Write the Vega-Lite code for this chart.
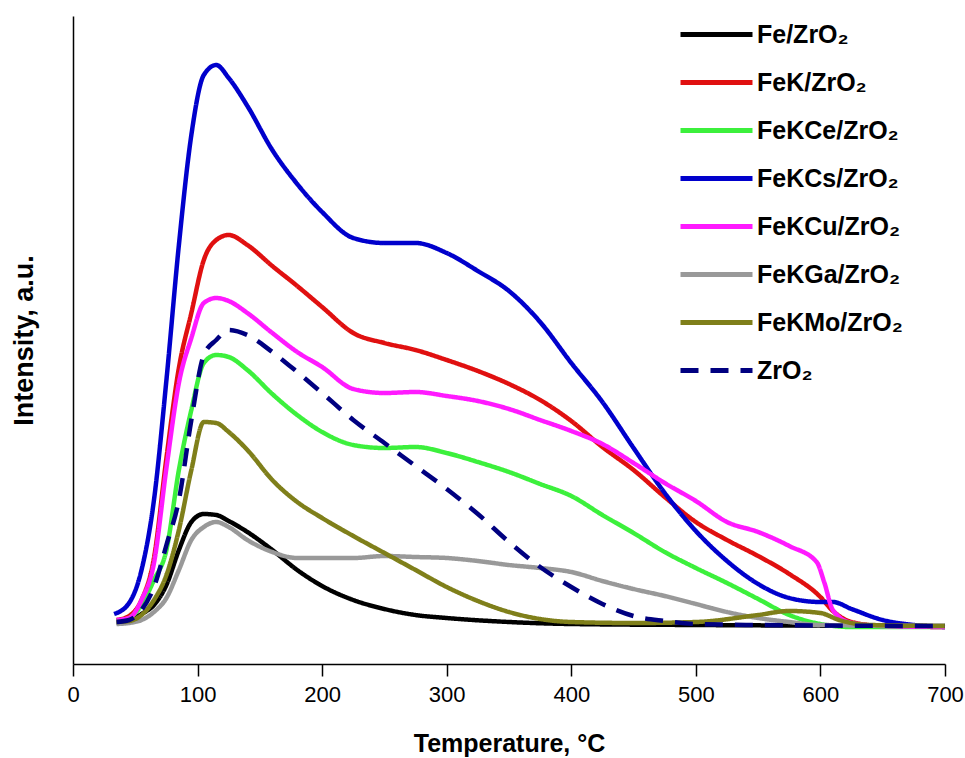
{
  "$schema": "https://vega.github.io/schema/vega-lite/v6.json",
  "width": 872,
  "height": 648,
  "autosize": {"type": "none"},
  "padding": {"left": 73, "top": 16, "right": 20, "bottom": 94},
  "background": "white",
  "config": {"view": {"stroke": null}, "font": "Liberation Sans"},
  "datasets": {
    "tpd": [
      {"s":"Fe/ZrO\u2082","t":35,"i":39},{"s":"Fe/ZrO\u2082","t":45,"i":41},{"s":"Fe/ZrO\u2082","t":55,"i":48},{"s":"Fe/ZrO\u2082","t":65,"i":57},{"s":"Fe/ZrO\u2082","t":75,"i":77},{"s":"Fe/ZrO\u2082","t":85,"i":112},{"s":"Fe/ZrO\u2082","t":95,"i":140},{"s":"Fe/ZrO\u2082","t":105,"i":148},{"s":"Fe/ZrO\u2082","t":115,"i":147},{"s":"Fe/ZrO\u2082","t":125,"i":141},{"s":"Fe/ZrO\u2082","t":140,"i":130},{"s":"Fe/ZrO\u2082","t":160,"i":112},{"s":"Fe/ZrO\u2082","t":180,"i":92},{"s":"Fe/ZrO\u2082","t":200,"i":76},{"s":"Fe/ZrO\u2082","t":225,"i":62},{"s":"Fe/ZrO\u2082","t":250,"i":53},{"s":"Fe/ZrO\u2082","t":275,"i":47},{"s":"Fe/ZrO\u2082","t":300,"i":44},{"s":"Fe/ZrO\u2082","t":350,"i":40},{"s":"Fe/ZrO\u2082","t":400,"i":38},{"s":"Fe/ZrO\u2082","t":500,"i":37},{"s":"Fe/ZrO\u2082","t":700,"i":36},

      {"s":"FeK/ZrO\u2082","t":35,"i":42},{"s":"FeK/ZrO\u2082","t":45,"i":46},{"s":"FeK/ZrO\u2082","t":55,"i":62},{"s":"FeK/ZrO\u2082","t":65,"i":104},{"s":"FeK/ZrO\u2082","t":75,"i":204},{"s":"FeK/ZrO\u2082","t":85,"i":294},{"s":"FeK/ZrO\u2082","t":95,"i":349},{"s":"FeK/ZrO\u2082","t":105,"i":402},{"s":"FeK/ZrO\u2082","t":115,"i":422},{"s":"FeK/ZrO\u2082","t":125,"i":427},{"s":"FeK/ZrO\u2082","t":140,"i":417},{"s":"FeK/ZrO\u2082","t":160,"i":396},{"s":"FeK/ZrO\u2082","t":180,"i":376},{"s":"FeK/ZrO\u2082","t":200,"i":355},{"s":"FeK/ZrO\u2082","t":225,"i":329},{"s":"FeK/ZrO\u2082","t":250,"i":319},{"s":"FeK/ZrO\u2082","t":275,"i":312},{"s":"FeK/ZrO\u2082","t":300,"i":302},{"s":"FeK/ZrO\u2082","t":325,"i":291},{"s":"FeK/ZrO\u2082","t":350,"i":278},{"s":"FeK/ZrO\u2082","t":375,"i":262},{"s":"FeK/ZrO\u2082","t":400,"i":241},{"s":"FeK/ZrO\u2082","t":425,"i":215},{"s":"FeK/ZrO\u2082","t":450,"i":192},{"s":"FeK/ZrO\u2082","t":475,"i":165},{"s":"FeK/ZrO\u2082","t":500,"i":140},{"s":"FeK/ZrO\u2082","t":525,"i":122},{"s":"FeK/ZrO\u2082","t":550,"i":106},{"s":"FeK/ZrO\u2082","t":575,"i":88},{"s":"FeK/ZrO\u2082","t":600,"i":65},{"s":"FeK/ZrO\u2082","t":610,"i":51},{"s":"FeK/ZrO\u2082","t":625,"i":40},{"s":"FeK/ZrO\u2082","t":650,"i":36},{"s":"FeK/ZrO\u2082","t":700,"i":35},

      {"s":"FeKCe/ZrO\u2082","t":35,"i":41},{"s":"FeKCe/ZrO\u2082","t":45,"i":44},{"s":"FeKCe/ZrO\u2082","t":55,"i":57},{"s":"FeKCe/ZrO\u2082","t":65,"i":82},{"s":"FeKCe/ZrO\u2082","t":75,"i":112},{"s":"FeKCe/ZrO\u2082","t":85,"i":192},{"s":"FeKCe/ZrO\u2082","t":95,"i":252},{"s":"FeKCe/ZrO\u2082","t":105,"i":299},{"s":"FeKCe/ZrO\u2082","t":115,"i":307},{"s":"FeKCe/ZrO\u2082","t":125,"i":305},{"s":"FeKCe/ZrO\u2082","t":140,"i":292},{"s":"FeKCe/ZrO\u2082","t":160,"i":268},{"s":"FeKCe/ZrO\u2082","t":180,"i":247},{"s":"FeKCe/ZrO\u2082","t":200,"i":230},{"s":"FeKCe/ZrO\u2082","t":225,"i":217},{"s":"FeKCe/ZrO\u2082","t":250,"i":214},{"s":"FeKCe/ZrO\u2082","t":275,"i":215},{"s":"FeKCe/ZrO\u2082","t":300,"i":209},{"s":"FeKCe/ZrO\u2082","t":325,"i":200},{"s":"FeKCe/ZrO\u2082","t":350,"i":190},{"s":"FeKCe/ZrO\u2082","t":375,"i":178},{"s":"FeKCe/ZrO\u2082","t":400,"i":166},{"s":"FeKCe/ZrO\u2082","t":425,"i":147},{"s":"FeKCe/ZrO\u2082","t":450,"i":129},{"s":"FeKCe/ZrO\u2082","t":475,"i":110},{"s":"FeKCe/ZrO\u2082","t":500,"i":94},{"s":"FeKCe/ZrO\u2082","t":525,"i":79},{"s":"FeKCe/ZrO\u2082","t":550,"i":63},{"s":"FeKCe/ZrO\u2082","t":575,"i":47},{"s":"FeKCe/ZrO\u2082","t":600,"i":38},{"s":"FeKCe/ZrO\u2082","t":625,"i":35},{"s":"FeKCe/ZrO\u2082","t":700,"i":35},

      {"s":"FeKCs/ZrO\u2082","t":33,"i":48},{"s":"FeKCs/ZrO\u2082","t":45,"i":59},{"s":"FeKCs/ZrO\u2082","t":55,"i":92},{"s":"FeKCs/ZrO\u2082","t":65,"i":162},{"s":"FeKCs/ZrO\u2082","t":75,"i":282},{"s":"FeKCs/ZrO\u2082","t":85,"i":417},{"s":"FeKCs/ZrO\u2082","t":95,"i":527},{"s":"FeKCs/ZrO\u2082","t":105,"i":587},{"s":"FeKCs/ZrO\u2082","t":115,"i":597},{"s":"FeKCs/ZrO\u2082","t":125,"i":584},{"s":"FeKCs/ZrO\u2082","t":140,"i":556},{"s":"FeKCs/ZrO\u2082","t":160,"i":512},{"s":"FeKCs/ZrO\u2082","t":180,"i":478},{"s":"FeKCs/ZrO\u2082","t":200,"i":450},{"s":"FeKCs/ZrO\u2082","t":225,"i":424},{"s":"FeKCs/ZrO\u2082","t":250,"i":419},{"s":"FeKCs/ZrO\u2082","t":275,"i":419},{"s":"FeKCs/ZrO\u2082","t":300,"i":409},{"s":"FeKCs/ZrO\u2082","t":325,"i":391},{"s":"FeKCs/ZrO\u2082","t":350,"i":371},{"s":"FeKCs/ZrO\u2082","t":375,"i":340},{"s":"FeKCs/ZrO\u2082","t":400,"i":299},{"s":"FeKCs/ZrO\u2082","t":425,"i":260},{"s":"FeKCs/ZrO\u2082","t":450,"i":214},{"s":"FeKCs/ZrO\u2082","t":475,"i":169},{"s":"FeKCs/ZrO\u2082","t":500,"i":131},{"s":"FeKCs/ZrO\u2082","t":525,"i":101},{"s":"FeKCs/ZrO\u2082","t":550,"i":78},{"s":"FeKCs/ZrO\u2082","t":575,"i":64},{"s":"FeKCs/ZrO\u2082","t":600,"i":60},{"s":"FeKCs/ZrO\u2082","t":610,"i":60},{"s":"FeKCs/ZrO\u2082","t":625,"i":53},{"s":"FeKCs/ZrO\u2082","t":650,"i":42},{"s":"FeKCs/ZrO\u2082","t":675,"i":37},{"s":"FeKCs/ZrO\u2082","t":700,"i":35},

      {"s":"FeKCu/ZrO\u2082","t":35,"i":42},{"s":"FeKCu/ZrO\u2082","t":45,"i":44},{"s":"FeKCu/ZrO\u2082","t":55,"i":62},{"s":"FeKCu/ZrO\u2082","t":65,"i":99},{"s":"FeKCu/ZrO\u2082","t":75,"i":194},{"s":"FeKCu/ZrO\u2082","t":85,"i":279},{"s":"FeKCu/ZrO\u2082","t":95,"i":324},{"s":"FeKCu/ZrO\u2082","t":105,"i":359},{"s":"FeKCu/ZrO\u2082","t":115,"i":364},{"s":"FeKCu/ZrO\u2082","t":125,"i":361},{"s":"FeKCu/ZrO\u2082","t":140,"i":349},{"s":"FeKCu/ZrO\u2082","t":160,"i":329},{"s":"FeKCu/ZrO\u2082","t":180,"i":310},{"s":"FeKCu/ZrO\u2082","t":200,"i":295},{"s":"FeKCu/ZrO\u2082","t":225,"i":273},{"s":"FeKCu/ZrO\u2082","t":250,"i":269},{"s":"FeKCu/ZrO\u2082","t":275,"i":270},{"s":"FeKCu/ZrO\u2082","t":300,"i":266},{"s":"FeKCu/ZrO\u2082","t":325,"i":261},{"s":"FeKCu/ZrO\u2082","t":350,"i":253},{"s":"FeKCu/ZrO\u2082","t":375,"i":242},{"s":"FeKCu/ZrO\u2082","t":400,"i":231},{"s":"FeKCu/ZrO\u2082","t":425,"i":218},{"s":"FeKCu/ZrO\u2082","t":450,"i":199},{"s":"FeKCu/ZrO\u2082","t":475,"i":179},{"s":"FeKCu/ZrO\u2082","t":500,"i":161},{"s":"FeKCu/ZrO\u2082","t":525,"i":140},{"s":"FeKCu/ZrO\u2082","t":550,"i":130},{"s":"FeKCu/ZrO\u2082","t":575,"i":116},{"s":"FeKCu/ZrO\u2082","t":597,"i":100},{"s":"FeKCu/ZrO\u2082","t":603,"i":80},{"s":"FeKCu/ZrO\u2082","t":610,"i":52},{"s":"FeKCu/ZrO\u2082","t":625,"i":39},{"s":"FeKCu/ZrO\u2082","t":650,"i":36},{"s":"FeKCu/ZrO\u2082","t":700,"i":35},

      {"s":"FeKGa/ZrO\u2082","t":35,"i":38},{"s":"FeKGa/ZrO\u2082","t":45,"i":39},{"s":"FeKGa/ZrO\u2082","t":55,"i":42},{"s":"FeKGa/ZrO\u2082","t":65,"i":50},{"s":"FeKGa/ZrO\u2082","t":75,"i":64},{"s":"FeKGa/ZrO\u2082","t":85,"i":92},{"s":"FeKGa/ZrO\u2082","t":95,"i":122},{"s":"FeKGa/ZrO\u2082","t":105,"i":135},{"s":"FeKGa/ZrO\u2082","t":115,"i":140},{"s":"FeKGa/ZrO\u2082","t":125,"i":135},{"s":"FeKGa/ZrO\u2082","t":140,"i":122},{"s":"FeKGa/ZrO\u2082","t":160,"i":110},{"s":"FeKGa/ZrO\u2082","t":180,"i":104},{"s":"FeKGa/ZrO\u2082","t":200,"i":104},{"s":"FeKGa/ZrO\u2082","t":225,"i":104},{"s":"FeKGa/ZrO\u2082","t":250,"i":106},{"s":"FeKGa/ZrO\u2082","t":275,"i":105},{"s":"FeKGa/ZrO\u2082","t":300,"i":104},{"s":"FeKGa/ZrO\u2082","t":325,"i":101},{"s":"FeKGa/ZrO\u2082","t":350,"i":97},{"s":"FeKGa/ZrO\u2082","t":375,"i":94},{"s":"FeKGa/ZrO\u2082","t":400,"i":90},{"s":"FeKGa/ZrO\u2082","t":425,"i":81},{"s":"FeKGa/ZrO\u2082","t":450,"i":73},{"s":"FeKGa/ZrO\u2082","t":475,"i":66},{"s":"FeKGa/ZrO\u2082","t":500,"i":58},{"s":"FeKGa/ZrO\u2082","t":525,"i":50},{"s":"FeKGa/ZrO\u2082","t":550,"i":44},{"s":"FeKGa/ZrO\u2082","t":575,"i":40},{"s":"FeKGa/ZrO\u2082","t":600,"i":37},{"s":"FeKGa/ZrO\u2082","t":700,"i":36},

      {"s":"FeKMo/ZrO\u2082","t":35,"i":40},{"s":"FeKMo/ZrO\u2082","t":45,"i":41},{"s":"FeKMo/ZrO\u2082","t":55,"i":47},{"s":"FeKMo/ZrO\u2082","t":65,"i":62},{"s":"FeKMo/ZrO\u2082","t":75,"i":87},{"s":"FeKMo/ZrO\u2082","t":85,"i":132},{"s":"FeKMo/ZrO\u2082","t":95,"i":192},{"s":"FeKMo/ZrO\u2082","t":105,"i":240},{"s":"FeKMo/ZrO\u2082","t":115,"i":239},{"s":"FeKMo/ZrO\u2082","t":125,"i":230},{"s":"FeKMo/ZrO\u2082","t":140,"i":212},{"s":"FeKMo/ZrO\u2082","t":160,"i":182},{"s":"FeKMo/ZrO\u2082","t":180,"i":160},{"s":"FeKMo/ZrO\u2082","t":200,"i":144},{"s":"FeKMo/ZrO\u2082","t":225,"i":126},{"s":"FeKMo/ZrO\u2082","t":250,"i":109},{"s":"FeKMo/ZrO\u2082","t":275,"i":92},{"s":"FeKMo/ZrO\u2082","t":300,"i":75},{"s":"FeKMo/ZrO\u2082","t":325,"i":61},{"s":"FeKMo/ZrO\u2082","t":350,"i":50},{"s":"FeKMo/ZrO\u2082","t":375,"i":43},{"s":"FeKMo/ZrO\u2082","t":400,"i":40},{"s":"FeKMo/ZrO\u2082","t":450,"i":39},{"s":"FeKMo/ZrO\u2082","t":500,"i":40},{"s":"FeKMo/ZrO\u2082","t":550,"i":47},{"s":"FeKMo/ZrO\u2082","t":575,"i":51},{"s":"FeKMo/ZrO\u2082","t":600,"i":49},{"s":"FeKMo/ZrO\u2082","t":615,"i":42},{"s":"FeKMo/ZrO\u2082","t":640,"i":37},{"s":"FeKMo/ZrO\u2082","t":700,"i":36},

      {"s":"ZrO\u2082","t":35,"i":40},{"s":"ZrO\u2082","t":45,"i":42},{"s":"ZrO\u2082","t":55,"i":52},{"s":"ZrO\u2082","t":65,"i":75},{"s":"ZrO\u2082","t":75,"i":117},{"s":"ZrO\u2082","t":85,"i":162},{"s":"ZrO\u2082","t":95,"i":242},{"s":"ZrO\u2082","t":105,"i":307},{"s":"ZrO\u2082","t":115,"i":322},{"s":"ZrO\u2082","t":125,"i":332},{"s":"ZrO\u2082","t":140,"i":327},{"s":"ZrO\u2082","t":160,"i":310},{"s":"ZrO\u2082","t":180,"i":290},{"s":"ZrO\u2082","t":200,"i":269},{"s":"ZrO\u2082","t":225,"i":242},{"s":"ZrO\u2082","t":250,"i":219},{"s":"ZrO\u2082","t":275,"i":196},{"s":"ZrO\u2082","t":300,"i":173},{"s":"ZrO\u2082","t":325,"i":148},{"s":"ZrO\u2082","t":350,"i":120},{"s":"ZrO\u2082","t":375,"i":95},{"s":"ZrO\u2082","t":400,"i":75},{"s":"ZrO\u2082","t":425,"i":58},{"s":"ZrO\u2082","t":450,"i":46},{"s":"ZrO\u2082","t":475,"i":41},{"s":"ZrO\u2082","t":500,"i":38},{"s":"ZrO\u2082","t":550,"i":37},{"s":"ZrO\u2082","t":700,"i":36}
    ]
  },
  "data": {"name": "tpd"},
  "mark": {"type": "line", "strokeWidth": 4.5, "interpolate": "monotone"},
  "encoding": {
    "x": {
      "field": "t", "type": "quantitative",
      "scale": {"domain": [0, 700], "nice": false},
      "axis": {
        "values": [0, 100, 200, 300, 400, 500, 600, 700],
        "title": "Temperature, °C",
        "grid": false,
        "domainColor": "black", "domainWidth": 1.5,
        "tickColor": "black", "tickWidth": 1.5, "tickSize": 12,
        "labelFontSize": 22, "labelColor": "black", "labelPadding": 8, "labelFlush": false,
        "titleFontSize": 25, "titleFontWeight": "bold", "titleColor": "black", "titlePadding": 26
      }
    },
    "y": {
      "field": "i", "type": "quantitative",
      "scale": {"domain": [-2, 646], "nice": false, "zero": false},
      "axis": {
        "title": "Intensity, a.u.",
        "grid": false, "ticks": false, "labels": false,
        "domainColor": "black", "domainWidth": 1.5,
        "titleFontSize": 27, "titleFontWeight": "bold", "titleColor": "black", "titlePadding": 35
      }
    },
    "color": {
      "field": "s", "type": "nominal",
      "scale": {
        "domain": ["Fe/ZrO\u2082", "FeK/ZrO\u2082", "FeKCe/ZrO\u2082", "FeKCs/ZrO\u2082", "FeKCu/ZrO\u2082", "FeKGa/ZrO\u2082", "FeKMo/ZrO\u2082", "ZrO\u2082"],
        "range": ["#000000", "#e01010", "#3cf03c", "#0000cc", "#ff1aff", "#999999", "#7f7f1a", "#000080"]
      },
      "legend": {
        "orient": "none", "legendX": 629, "legendY": 4, "title": null,
        "symbolType": "M-3,0H3", "symbolSize": 576, "symbolStrokeWidth": 5,
        "labelFontSize": 25, "labelFontWeight": "bold", "labelColor": "black", "labelLimit": 400,
        "labelOffset": 26, "rowPadding": 20
      }
    },
    "strokeDash": {
      "field": "s", "type": "nominal",
      "scale": {
        "domain": ["Fe/ZrO\u2082", "FeK/ZrO\u2082", "FeKCe/ZrO\u2082", "FeKCs/ZrO\u2082", "FeKCu/ZrO\u2082", "FeKGa/ZrO\u2082", "FeKMo/ZrO\u2082", "ZrO\u2082"],
        "range": [[1, 0], [1, 0], [1, 0], [1, 0], [1, 0], [1, 0], [1, 0], [18, 12]]
      },
      "legend": {
        "orient": "none", "legendX": 629, "legendY": 4, "title": null,
        "symbolType": "M-3,0H3", "symbolSize": 576, "symbolStrokeWidth": 5,
        "labelFontSize": 25, "labelFontWeight": "bold", "labelColor": "black", "labelLimit": 400,
        "labelOffset": 26, "rowPadding": 20
      }
    }
  }
}
